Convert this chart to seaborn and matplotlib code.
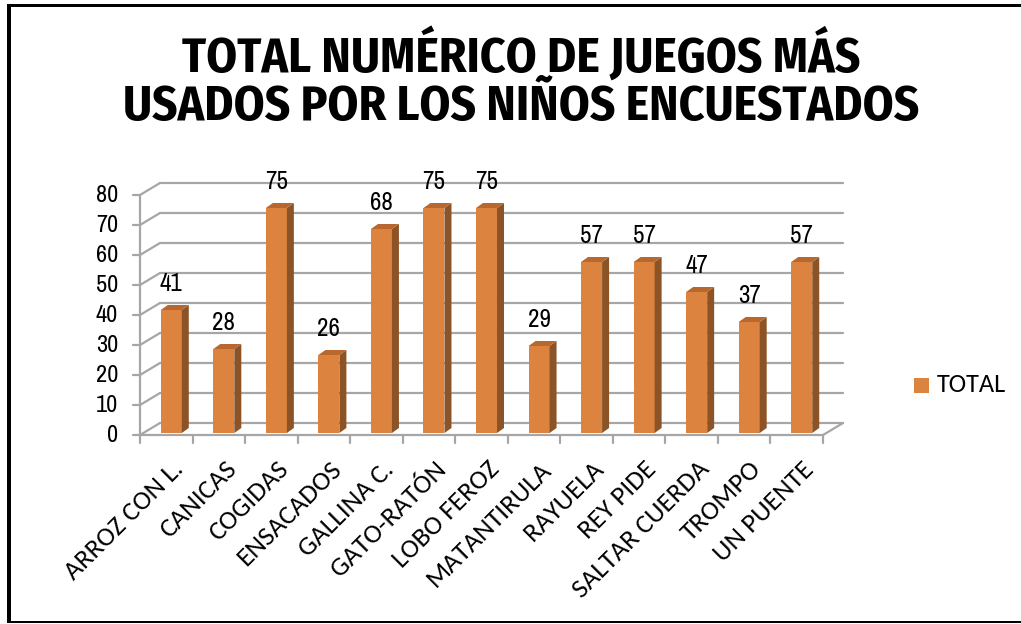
import matplotlib
matplotlib.use("Agg")
import matplotlib.pyplot as plt
from matplotlib.patches import Polygon, Rectangle
from matplotlib.lines import Line2D
import seaborn as sns
import pandas as pd

# Data
juegos = ["ARROZ CON L.", "CANICAS", "COGIDAS", "ENSACADOS", "GALLINA C.",
          "GATO-RATÓN", "LOBO FEROZ", "MATANTIRULA", "RAYUELA", "REY PIDE",
          "SALTAR CUERDA", "TROMPO", "UN PUENTE"]
total = [41, 28, 75, 26, 68, 75, 75, 29, 57, 57, 47, 37, 57]
y_ticks = [0, 10, 20, 30, 40, 50, 60, 70, 80]
serie = "TOTAL"
titulo = "TOTAL NUMÉRICO DE JUEGOS MÁS\nUSADOS POR LOS NIÑOS ENCUESTADOS"

df = pd.DataFrame({"juego": juegos, "total": total})

sns.set_theme(style="white")
narrow = ["Archivo Narrow", "DejaVu Sans"]
narrow_bold = ["Fira Sans Condensed", "DejaVu Sans"]
humanist = ["Carlito", "DejaVu Sans"]

W, H = 1021, 624
fig = plt.figure(figsize=(W / 100, H / 100), dpi=100)
fig.patch.set_facecolor("white")

# plot box in pixels: front floor edge at y=435, back wall top at y=183
px_left, px_right, px_bottom, px_top = 140, 843, 435, 183
ax = fig.add_axes([px_left / W, 1 - px_bottom / H,
                   (px_right - px_left) / W, (px_bottom - px_top) / H])

n = len(juegos)
cat_px = (823 - 140) / n          # pixels per category
val_px = 3.0                       # pixels per unit
dx = 20 / cat_px                   # depth offset (x, category units)
dy = 12 / val_px                   # depth offset (y, value units)

front = "#DC843F"
side = "#8C5426"
top = "#B8672F"
grid = "#A6A6A6"

# bars
bw = 0.4
sns.barplot(data=df, x="juego", y="total", color=front, width=bw, saturation=1,
            ax=ax, zorder=3, linewidth=0)
ax.set_xlim(-0.5, n - 0.5 + dx)
ax.set_ylim(0, 80 + dy)
ax.axis("off")

# walls and grid
x0, x1 = -0.5, n - 0.5
for v in y_ticks:
    ax.add_line(Line2D([x0 + dx, x1 + dx], [v + dy, v + dy], color=grid, lw=1.6, clip_on=False, zorder=1))
    ax.add_line(Line2D([x0, x0 + dx], [v, v + dy], color=grid, lw=1.6, clip_on=False, zorder=1))
    ax.add_line(Line2D([x0 - 7 / cat_px, x0], [v, v], color=grid, lw=1.6, clip_on=False, zorder=1))
    ax.text(x0 - 22 / cat_px, v, str(v), ha="right", va="center", fontsize=17.5,
            family=narrow, color="black")
ax.add_line(Line2D([x0, x0], [0, 80], color=grid, lw=1.6, clip_on=False, zorder=1))
ax.add_line(Line2D([x0, x1], [0, 0], color=grid, lw=1.6, clip_on=False, zorder=1))
ax.add_line(Line2D([x1, x1 + dx], [0, dy], color=grid, lw=1.6, clip_on=False, zorder=1))
for k in range(n + 1):
    xb = x0 + k
    ax.add_line(Line2D([xb, xb], [0, -8 / val_px], color=grid, lw=1.6, clip_on=False, zorder=1))

bx = 5 / cat_px      # bars sit slightly behind the front edge
by = 2 / val_px
sdx = 7 / cat_px
sdy = 5 / val_px
for p, v in zip(ax.patches, total):
    p.set_x(p.get_x() + bx)
    p.set_y(by)
    p.set_clip_on(False)
    l = p.get_x()
    r = l + p.get_width()
    t = by + p.get_height()
    ax.add_patch(Polygon([(r, by), (r + sdx, by + sdy), (r + sdx, t + sdy), (r, t)],
                         closed=True, facecolor=side, edgecolor="none", zorder=3, clip_on=False))
    ax.add_patch(Polygon([(l, t), (r, t), (r + sdx, t + sdy), (l + sdx, t + sdy)],
                         closed=True, facecolor=top, edgecolor="none", zorder=3, clip_on=False))
    ax.annotate(str(v), ((l + r) / 2, t + sdy), xytext=(0, 7), textcoords="offset points",
                ha="center", va="bottom", fontsize=18, family=narrow, color="black")

# category labels
for i, name in enumerate(juegos):
    ax.annotate(name, (i + 0.1, 0), xytext=(0, -16), textcoords="offset points",
                rotation=45, ha="right", va="top", rotation_mode="anchor",
                fontsize=19.5, family=humanist, color="black")

# legend
fig.add_artist(Rectangle((914 / W, 1 - 393 / H), 15 / W, 15 / H, transform=fig.transFigure,
                         facecolor=front, edgecolor="none"))
fig.text(937 / W, 1 - 385 / H, serie, ha="left", va="center", fontsize=19,
         family=humanist, color="black")

# title
fig.text(521 / W, 1 - 80 / H, titulo, ha="center", va="center", fontsize=35.5,
         fontweight="bold", family=narrow_bold, color="black", linespacing=1.0)

# frame
for xs, ys, lw in [([9, 9], [4, 622], 4), ([7, W], [5, 5], 3), ([7, W], [622, 622], 2)]:
    fig.add_artist(Line2D([x / W for x in xs], [1 - y / H for y in ys],
                          transform=fig.transFigure, color="black", lw=lw * 0.72,
                          solid_capstyle="butt"))

fig.savefig("out.png", dpi=100)
